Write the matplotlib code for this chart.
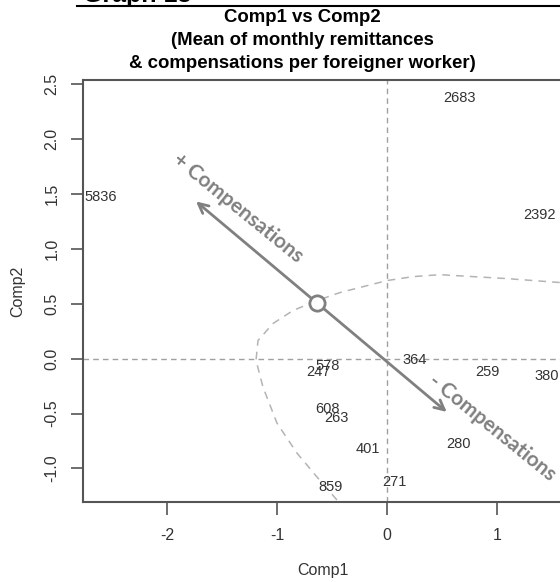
import numpy as np
import matplotlib.pyplot as plt
from matplotlib.lines import Line2D

plt.rcParams['font.family'] = ['Liberation Sans', 'DejaVu Sans']

# Etiquetas de los puntos (Comp1, Comp2)
labels = ['2683', '5836', '2392', '578', '247', '364', '259', '380',
          '608', '263', '401', '280', '271', '859']
comp1 = [0.655, -2.60, 1.39, -0.54, -0.62, 0.25, 0.91, 1.45,
         -0.54, -0.46, -0.17, 0.65, 0.07, -0.51]
comp2 = [2.38, 1.475, 1.31, -0.07, -0.12, -0.015, -0.12, -0.16,
         -0.46, -0.54, -0.82, -0.78, -1.12, -1.17]

# Curva discontinua (contorno)
curve_x = [-0.455, -0.636, -0.818, -1.0, -1.127, -1.191, -1.173, -1.036,
           -0.855, -0.636, -0.427, 0.0, 0.236, 0.482, 0.782, 1.091, 1.573, 1.75]
curve_y = [-1.288, -1.079, -0.861, -0.588, -0.261, -0.015, 0.166, 0.321,
           0.439, 0.53, 0.603, 0.712, 0.748, 0.766, 0.748, 0.730, 0.694, 0.68]

# Flecha de compensaciones
arrow_start = (0.543, -0.485)
arrow_end = (-1.736, 1.433)
circle_pt = (-0.64, 0.51)

xticks = [-2, -1, 0, 1]
yticks = [-1.0, -0.5, 0.0, 0.5, 1.0, 1.5, 2.0, 2.5]

fig = plt.figure(figsize=(5.6, 5.82), dpi=100)
ax = fig.add_axes([83 / 560, 1 - 502 / 582, 480 / 560, 422 / 582])
ax.set_xlim(-2.764, 1.6)
ax.set_ylim(-1.306, 2.54)

ax.axhline(0, color='#a0a0a0', lw=1, ls=(0, (4, 3)), zorder=1)
ax.axvline(0, color='#a0a0a0', lw=1, ls=(0, (4, 3)), zorder=1)

ax.plot(curve_x, curve_y, color='#b4b4b4', lw=1.1, ls=(0, (5, 4)), zorder=1)

for lab, x, y in zip(labels, comp1, comp2):
    ax.text(x, y, lab, ha='center', va='center', fontsize=10.5, color='#333333', zorder=3)

ax.annotate('', xy=arrow_end, xytext=arrow_start,
            arrowprops=dict(arrowstyle='<->,head_length=0.7,head_width=0.35',
                            color='#808080', lw=2.0, shrinkA=0, shrinkB=0), zorder=4)
ax.plot(*circle_pt, 'o', ms=11, mfc='white', mec='#808080', mew=2, zorder=5)

ax.text(-1.355, 1.375, '+ Compensations', rotation=-39, ha='center', va='center',
        fontsize=15, fontweight='bold', color='#808080', family=['Lato', 'DejaVu Sans'],
        rotation_mode='anchor')
ax.text(0.959, -0.629, '- Compensations', rotation=-39, ha='center', va='center',
        fontsize=15, fontweight='bold', color='#808080', family=['Lato', 'DejaVu Sans'],
        rotation_mode='anchor')

ax.set_xticks(xticks)
ax.set_yticks(yticks)
ax.set_xticklabels([str(t) for t in xticks])
ax.set_yticklabels([f'{t:.1f}' for t in yticks], rotation=90, va='center')
ax.tick_params(axis='x', pad=10)
ax.tick_params(axis='y', pad=8)
ax.tick_params(direction='out', length=9, width=1.2, colors='#555555',
               labelcolor='#333333', labelsize=11.5)
for side in ['left', 'bottom', 'top', 'right']:
    ax.spines[side].set_color('#555555')
    ax.spines[side].set_linewidth(1.5)

ax.set_xlabel('Comp1', fontsize=11.5, color='#333333', labelpad=14)
ax.set_ylabel('Comp2', fontsize=11.5, color='#333333', labelpad=14)

fig.text(302 / 560, 1 - 17 / 582, 'Comp1 vs Comp2', ha='center', va='center',
         fontsize=13.4, fontweight='bold')
fig.text(302 / 560, 1 - 40.5 / 582, '(Mean of monthly remittances', ha='center', va='center',
         fontsize=13.4, fontweight='bold')
fig.text(302 / 560, 1 - 64 / 582, '& compensations per foreigner worker)', ha='center',
         va='center', fontsize=13.4, fontweight='bold')

# Encabezado recortado "Graph 13"
fig.text(83 / 560, 1 - 2 / 582, 'Graph 13', ha='left', va='baseline',
         fontsize=18, fontweight='bold')
fig.add_artist(Line2D([77 / 560, 1.0], [1 - 6 / 582, 1 - 6 / 582], color='black', lw=1.5))

fig.savefig('out.png', dpi=100)
